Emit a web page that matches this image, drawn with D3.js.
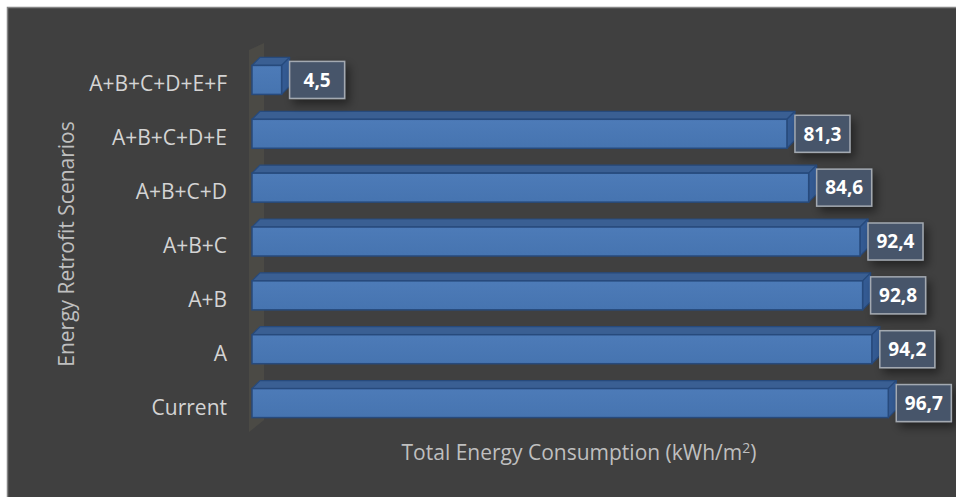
<!DOCTYPE html>
<html>
<head>
<meta charset="utf-8">
<script src="https://cdn.jsdelivr.net/npm/d3@7"></script>
<style>
  body { margin: 0; background: #fff; }
  svg { display: block; }
</style>
</head>
<body>
<div id="chart"></div>
<script>
// data, bottom to top as in the chart
const categories = ["Current", "A", "A+B", "A+B+C", "A+B+C+D", "A+B+C+D+E", "A+B+C+D+E+F"];
const values = [96.7, 94.2, 92.8, 92.4, 84.6, 81.3, 4.5];
const xDomain = [0, 100];
const yTitle = "Energy Retrofit Scenarios";
const xTitle = "Total Energy Consumption (kWh/m";

const W = 956, H = 497;
const depth = 8;       // 3D offset of bars
const barH = 29;

const svg = d3.select("#chart").append("svg")
    .attr("width", W).attr("height", H);

const defs = svg.append("defs");
const sh = defs.append("filter").attr("id", "shadow")
    .attr("x", "-30%").attr("y", "-30%").attr("width", "170%").attr("height", "170%");
sh.append("feDropShadow")
    .attr("dx", 4).attr("dy", 5).attr("stdDeviation", 5)
    .attr("flood-color", "#000").attr("flood-opacity", 0.45);

const grad = defs.append("linearGradient").attr("id", "front")
    .attr("x1", 0).attr("x2", 0).attr("y1", 0).attr("y2", 1);
grad.append("stop").attr("offset", "0%").attr("stop-color", "#4d7bb8");
grad.append("stop").attr("offset", "100%").attr("stop-color", "#4674b0");

// chart area frame
svg.append("rect")
    .attr("x", 7.5).attr("y", 7.5)
    .attr("width", W + 10).attr("height", H + 10)
    .attr("fill", "#404040")
    .attr("stroke", "#858585").attr("stroke-width", 1.5);

const x = d3.scaleLinear().domain(xDomain).range([252, 910]);
const y = d3.scalePoint()
    .domain(categories.slice().reverse())
    .range([53, 430])
    .padding(0.5);

const fmt = d3.formatLocale({decimal: ",", thousands: ".", grouping: [3], currency: ["", ""]}).format(".1f");

// back wall of the 3D plot
const x0 = x(0);
svg.append("polygon")
    .attr("points", [
        [x0 - 3, 50], [x0 + 12, 43], [x0 + 12, 420], [x0 - 3, 432]
    ].map(p => p.join(",")).join(" "))
    .attr("fill", "#4b4a45");

const data = categories.map((c, i) => ({cat: c, v: values[i]}));

const bars = svg.append("g").selectAll("g")
    .data(data)
    .join("g");

bars.each(function(d) {
    const g = d3.select(this);
    const x1 = x(d.v);
    const top = y(d.cat) - barH / 2;
    const bot = top + barH;
    // top face
    g.append("polygon")
        .attr("points", [[x0, top], [x0 + depth, top - depth], [x1 + depth, top - depth], [x1, top]]
            .map(p => p.join(",")).join(" "))
        .attr("fill", "#3a5f93")
        .attr("stroke", "#274a7c").attr("stroke-width", 1.2).attr("stroke-linejoin", "round");
    // side face
    g.append("polygon")
        .attr("points", [[x1, top], [x1 + depth, top - depth], [x1 + depth, bot - depth], [x1, bot]]
            .map(p => p.join(",")).join(" "))
        .attr("fill", "#345b94")
        .attr("stroke", "#274a7c").attr("stroke-width", 1.2).attr("stroke-linejoin", "round");
    // front face
    g.append("rect")
        .attr("x", x0).attr("y", top)
        .attr("width", x1 - x0).attr("height", barH)
        .attr("fill", "url(#front)")
        .attr("stroke", "#274a7c").attr("stroke-width", 1.5);
});

// data labels
const lblW = 55, lblH = 37;
const labels = svg.append("g").selectAll("g")
    .data(data)
    .join("g")
    .attr("transform", d => `translate(${x(d.v) + depth},${y(d.cat) - lblH / 2})`);

labels.append("rect")
    .attr("width", lblW).attr("height", lblH)
    .attr("fill", "#46546a")
    .attr("stroke", "#a3a9b1").attr("stroke-width", 1.5)
    .attr("filter", "url(#shadow)");

labels.append("text")
    .attr("x", lblW / 2).attr("y", lblH / 2)
    .attr("dy", "0.36em")
    .attr("text-anchor", "middle")
    .attr("fill", "#fff")
    .style("font", "bold 19px 'Open Sans', sans-serif")
    .text(d => fmt(d.v));

// category labels (sit a little below the bar fronts, as in the original)
svg.append("g").selectAll("text")
    .data(categories)
    .join("text")
    .attr("x", 227)
    .attr("y", d => y(d) + 4)
    .attr("dy", "0.36em")
    .attr("text-anchor", "end")
    .attr("fill", "#d4d4d4")
    .style("font", "21px 'Open Sans', sans-serif")
    .text(d => d);

// axis titles
svg.append("text")
    .attr("transform", "translate(66,244) rotate(-90)")
    .attr("dy", "0.36em")
    .attr("text-anchor", "middle")
    .attr("fill", "#bfbfbf")
    .style("font", "21px 'Open Sans', sans-serif")
    .text(yTitle);

const xt = svg.append("text")
    .attr("x", 579).attr("y", 452)
    .attr("dy", "0.36em")
    .attr("text-anchor", "middle")
    .attr("fill", "#bfbfbf")
    .style("font", "21px 'Open Sans', sans-serif");
xt.append("tspan").text(xTitle);
xt.append("tspan").attr("dy", "-7px").style("font-size", "14px").text("2");
xt.append("tspan").attr("dy", "7px").text(")");
</script>
</body>
</html>
